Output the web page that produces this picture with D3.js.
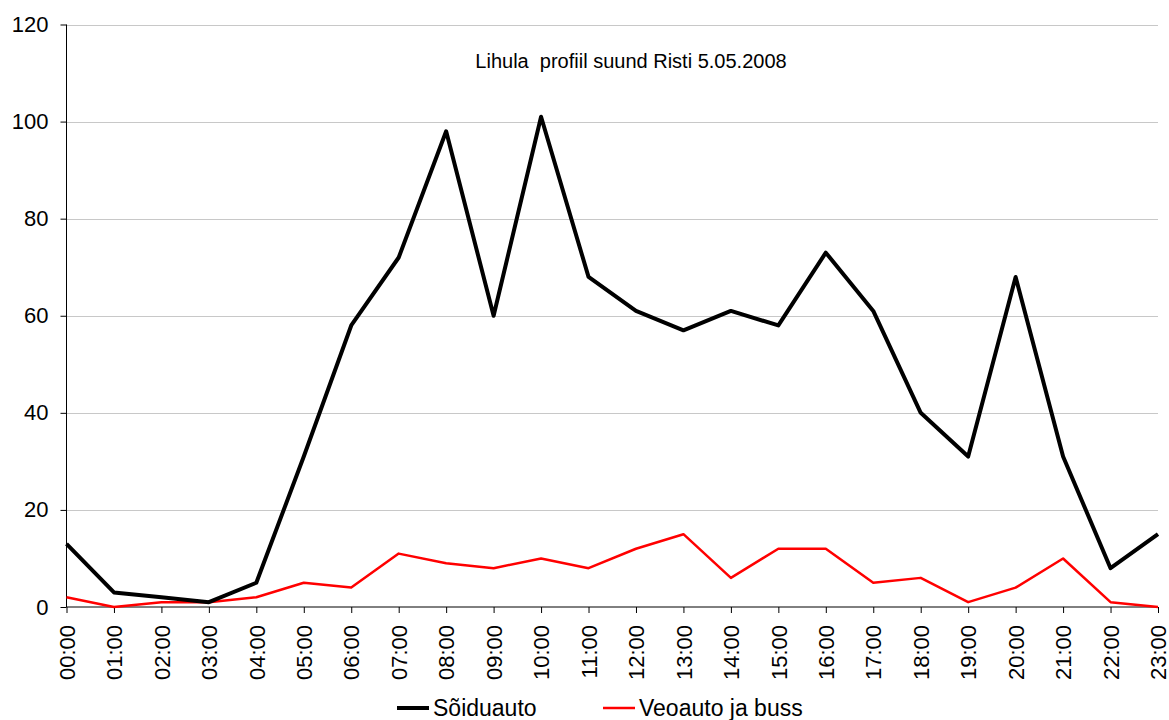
<!DOCTYPE html>
<html>
<head>
<meta charset="utf-8">
<script src="https://cdn.jsdelivr.net/npm/d3@7"></script>
<style>
  body { margin: 0; background: #fff; }
  svg { font-family: Arial, "Liberation Sans", sans-serif; }
</style>
</head>
<body>
<div id="chart"></div>
<script>
const hours = ["00:00","01:00","02:00","03:00","04:00","05:00","06:00","07:00","08:00","09:00","10:00","11:00",
  "12:00","13:00","14:00","15:00","16:00","17:00","18:00","19:00","20:00","21:00","22:00","23:00"];
const soiduauto = [13, 3, 2, 1, 5, 31, 58, 72, 98, 60, 101, 68, 61, 57, 61, 58, 73, 61, 40, 31, 68, 31, 8, 15];
const veoauto = [2, 0, 1, 1, 2, 5, 4, 11, 9, 8, 10, 8, 12, 15, 6, 12, 12, 5, 6, 1, 4, 10, 1, 0];
const yTicks = [0, 20, 40, 60, 80, 100, 120];
const titleText = "Lihula  profiil suund Risti 5.05.2008";

const width = 1169, height = 720;
const margin = { left: 66.5, right: 11, top: 24.5, bottom: 113 };

const svg = d3.select("#chart").append("svg")
  .attr("width", width)
  .attr("height", height);

const x = d3.scalePoint()
  .domain(hours)
  .range([margin.left, width - margin.right]);

const y = d3.scaleLinear()
  .domain([0, 120])
  .range([height - margin.bottom, margin.top]);

// gridlines
svg.append("g").selectAll("line")
  .data(yTicks.filter(d => d > 0))
  .enter().append("line")
  .attr("x1", margin.left)
  .attr("x2", width - margin.right)
  .attr("y1", d => Math.round(y(d)) + 0.5)
  .attr("y2", d => Math.round(y(d)) + 0.5)
  .attr("stroke", "#c8c8c8")
  .attr("stroke-width", 1);

// y axis
const yAxis = svg.append("g")
  .attr("transform", `translate(${margin.left},0)`)
  .call(d3.axisLeft(y).tickValues(yTicks).tickSize(6).tickPadding(12).tickFormat(d3.format("d")));
yAxis.selectAll("text").attr("font-size", "22px").attr("fill", "#000");
yAxis.selectAll("line").attr("stroke", "#000");
yAxis.select(".domain").attr("stroke", "#000").attr("d", `M0,${y(0)}V${y(120)}`);

// x axis (the last label is clipped by the right edge, as in the original)
const xAxis = svg.append("g")
  .attr("transform", `translate(0,${y(0)})`)
  .call(d3.axisBottom(x).tickSize(6).tickPadding(6));
xAxis.select(".domain").attr("stroke", "#000").attr("d", `M${margin.left},0H${width - margin.right}`);
xAxis.selectAll("line").attr("stroke", "#000");
xAxis.selectAll("text")
  .attr("font-size", "22px")
  .attr("fill", "#000")
  .attr("transform", "rotate(-90)")
  .attr("text-anchor", "end")
  .attr("dy", "0.35em")
  .attr("x", -18)
  .attr("y", 0);

// lines
const line = d3.line()
  .x((d, i) => x(hours[i]))
  .y(d => y(d));

svg.append("path")
  .datum(veoauto)
  .attr("d", line)
  .attr("fill", "none")
  .attr("stroke", "#ff0000")
  .attr("stroke-width", 2.5)
  .attr("stroke-linejoin", "round");

svg.append("path")
  .datum(soiduauto)
  .attr("d", line)
  .attr("fill", "none")
  .attr("stroke", "#000")
  .attr("stroke-width", 4)
  .attr("stroke-linejoin", "round");

// title
svg.append("text")
  .attr("x", 631)
  .attr("y", 68)
  .attr("text-anchor", "middle")
  .attr("font-size", "20px")
  .style("white-space", "pre")
  .text(titleText);

// legend
const legend = [
  { name: "Sõiduauto", color: "#000", w: 4, x: 397 },
  { name: "Veoauto ja buss", color: "#ff0000", w: 2.5, x: 603 }
];
const lg = svg.append("g").selectAll("g")
  .data(legend)
  .enter().append("g")
  .attr("transform", d => `translate(${d.x},708)`);
lg.append("line")
  .attr("x1", 0).attr("x2", 32)
  .attr("stroke", d => d.color)
  .attr("stroke-width", d => d.w);
lg.append("text")
  .attr("x", 36)
  .attr("dy", "0.35em")
  .attr("font-size", "23px")
  .text(d => d.name);
</script>
</body>
</html>
